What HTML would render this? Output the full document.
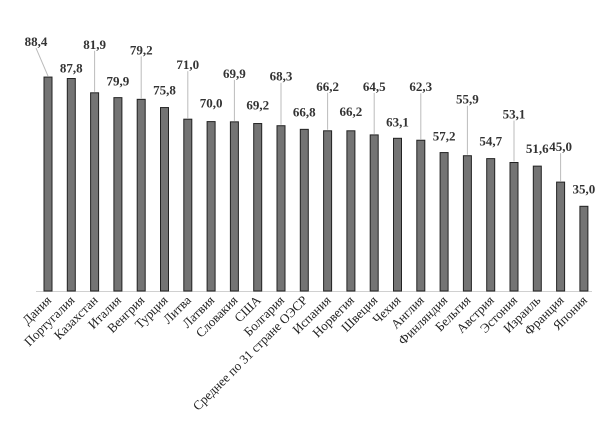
<!DOCTYPE html>
<html><head><meta charset="utf-8"><style>
body{margin:0;background:#fff}
svg{display:block}
.v{font-family:"Liberation Serif",serif;font-weight:bold;font-size:13px;fill:#333;text-anchor:middle}
.c{font-family:"Liberation Serif",serif;font-size:13px;fill:#222;text-anchor:end}
</style></head><body>
<svg id="chart" width="600" height="430"></svg>
<script>
const categories=["Дания","Португалия","Казахстан","Италия","Венгрия","Турция","Литва","Латвия","Словакия","США","Болгария","Среднее по 31 стране ОЭСР","Испания","Норвегия","Швеция","Чехия","Англия","Финляндия","Бельгия","Австрия","Эстония","Израиль","Франция","Япония"];
const values=[88.4,87.8,81.9,79.9,79.2,75.8,71.0,70.0,69.9,69.2,68.3,66.8,66.2,66.2,64.5,63.1,62.3,57.2,55.9,54.7,53.1,51.6,45.0,35.0];
const valueLabels=["88,4","87,8","81,9","79,9","79,2","75,8","71,0","70,0","69,9","69,2","68,3","66,8","66,2","66,2","64,5","63,1","62,3","57,2","55,9","54,7","53,1","51,6","45,0","35,0"];
const labelRaise=[27,2,40,8,41,9,46,10,40,10,41,9,36,11,40,8,45,8,48,9,40,9,27,9];
const labelDx=[-12,0,0,0,0,0,0,0,0,0,0,0,0,0,0,0,0,0,0,0,0,0,0,0];
const NS="http://www.w3.org/2000/svg";
const svg=document.getElementById("chart");
const baseY=291, x0=48, step=23.3, bw=8;
const xPos=i=>x0+i*step;
const yPos=v=>baseY-v*2.42;
function mk(t,a){const e=document.createElementNS(NS,t);for(const k in a)e.setAttribute(k,a[k]);svg.appendChild(e);return e;}
const ax=mk("line",{x1:36,x2:592,y1:baseY+0.5,y2:baseY+0.5,stroke:"#d0d0d0","stroke-width":1});


values.forEach((v,i)=>{
  const x=xPos(i), top=yPos(v);
  const r=mk("rect",{x:x-bw/2,y:top,width:bw,height:baseY-top,fill:"#747474",stroke:"#222","stroke-width":1});
  
  
  const ly=top-4-labelRaise[i], lx=x+labelDx[i];
  if(labelRaise[i]>15){
    const l=mk("line",{x1:lx,y1:ly+2,x2:x,y2:top-1,stroke:"#bbb","stroke-width":1});
    
    
  }
  const t=mk("text",{x:lx,y:ly,class:"v"});t.textContent=valueLabels[i];
  
  
  const c=mk("text",{x:x+4,y:baseY+10,class:"c",transform:`rotate(-45 ${x+4} ${baseY+10})`});c.textContent=categories[i];
  
  
});
</script>
</body></html>
